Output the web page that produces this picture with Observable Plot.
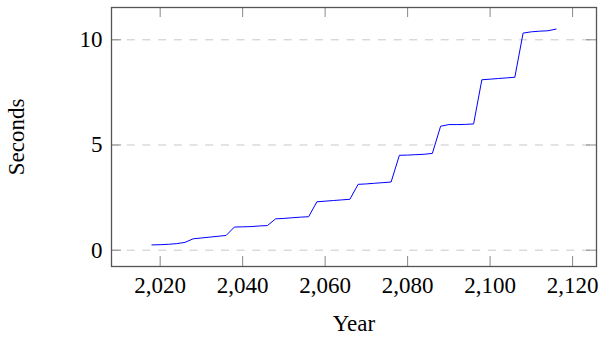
<!DOCTYPE html>
<html>
<head>
<meta charset="utf-8">
<script src="https://cdn.jsdelivr.net/npm/d3@7"></script>
<script src="https://cdn.jsdelivr.net/npm/@observablehq/plot@0.6"></script>
<style>
  html, body { margin: 0; padding: 0; background: #fff; }
  #chart svg { display: block; }
</style>
</head>
<body>
<div id="chart"></div>
<script>
const years = [2018,2020,2022,2024,2026,2028,2030,2032,2034,2036,2038,2040,2042,2044,2046,2048,2050,2052,2054,2056,2058,2060,2062,2064,2066,2068,2070,2072,2074,2076,2078,2080,2082,2084,2086,2088,2090,2092,2094,2096,2098,2100,2102,2104,2106,2108,2110,2112,2114,2116];
const seconds = [0.25,0.26,0.28,0.31,0.37,0.54,0.58,0.62,0.66,0.70,1.10,1.11,1.12,1.15,1.17,1.49,1.51,1.54,1.57,1.59,2.30,2.33,2.36,2.39,2.42,3.13,3.15,3.18,3.21,3.24,4.51,4.52,4.54,4.56,4.60,5.89,5.97,5.97,5.98,6.00,8.10,8.13,8.16,8.19,8.22,10.32,10.38,10.41,10.43,10.51];
const xTicks = [2020,2040,2060,2080,2100,2120];
const yTicks = [0,5,10];

const data = years.map((y, i) => ({year: y, sec: seconds[i]}));

const W = 602, H = 337;
const mL = 111, mR = 6, mT = 7, mB = 71;
const fw = W - mL - mR, fh = H - mT - mB;
const tl = 10;

// pgfplots-style 10% enlargement of data range
const xr = d3.max(years) - d3.min(years);
const yr = d3.max(seconds) - d3.min(seconds);
const xDomain = [d3.min(years) - 0.1 * xr, d3.max(years) + 0.1 * xr];
const yDomain = [d3.min(seconds) - 0.1 * yr, d3.max(seconds) + 0.1 * yr];

const font = "'Liberation Serif', serif";

const chart = Plot.plot({
  width: W, height: H,
  marginLeft: mL, marginRight: mR, marginTop: mT, marginBottom: mB,
  style: {fontFamily: font, fontSize: "23px", color: "#000", background: "#fff"},
  x: {domain: xDomain},
  y: {domain: yDomain},
  marks: [
    Plot.gridY(yTicks, {stroke: "#c8c8c8", strokeOpacity: 1, strokeDasharray: "8,7.7"}),
    Plot.tickX(xTicks, {x: d => d, stroke: "#888", insetTop: fh - tl}),
    Plot.tickX(xTicks, {x: d => d, stroke: "#888", insetBottom: fh - tl}),
    Plot.tickY(yTicks, {y: d => d, stroke: "#888", insetRight: fw - tl}),
    Plot.tickY(yTicks, {y: d => d, stroke: "#888", insetLeft: fw - tl}),
    Plot.line(data, {x: "year", y: "sec", stroke: "#0000ff", strokeWidth: 1}),
    Plot.frame({stroke: "#555", strokeWidth: 1.3}),
    Plot.axisX(xTicks, {tickSize: 0, tickPadding: 10, tickFormat: d3.format(","), fontSize: 23, label: "Year", labelAnchor: "center", labelOffset: 64, labelArrow: "none"}),
    Plot.axisY(yTicks, {tickSize: 0, tickPadding: 9, tickFormat: d => String(d), fontSize: 23, label: "Seconds", labelAnchor: "center", labelOffset: 104, labelArrow: "none"})
  ]
});
document.getElementById("chart").appendChild(chart);
</script>
</body>
</html>
